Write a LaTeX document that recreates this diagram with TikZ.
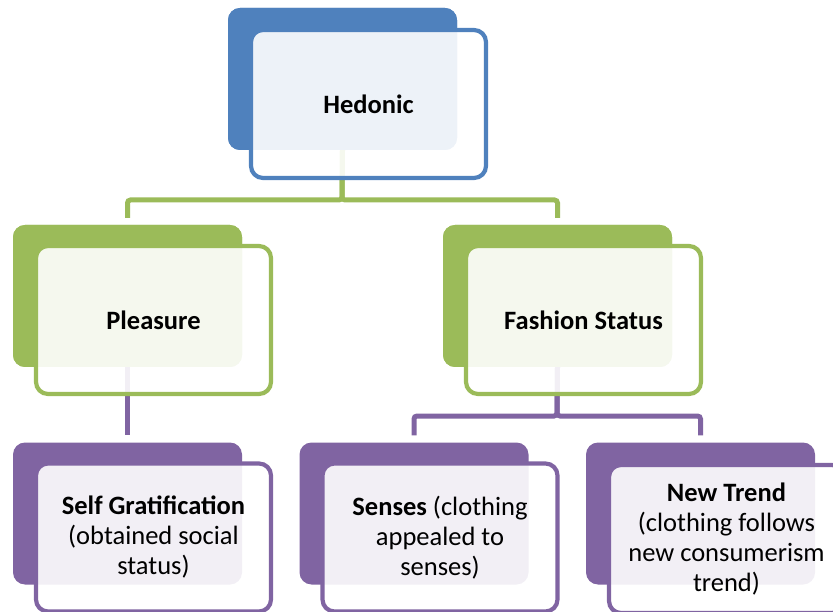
\documentclass[tikz,border=0pt]{standalone}
\usepackage{fontspec}
\setmainfont{Carlito}
\definecolor{cblue}{HTML}{4F81BD}
\definecolor{cgreen}{HTML}{9BBB59}
\definecolor{cpurple}{HTML}{8064A2}
\begin{document}
\begin{tikzpicture}[x=1pt,y=-1pt,
  backbox/.style={fill=#1,draw=none,rounded corners=12pt,minimum width=229pt,minimum height=142pt,inner sep=0pt},
  frontbox/.style={fill=white,fill opacity=0.9,text opacity=1,draw=#1,line width=4.2pt,rounded corners=12pt,minimum width=235pt,minimum height=148pt,inner sep=0pt,align=center,font=\fontsize{26.5}{30}\selectfont},
  conn/.style={draw=#1,line width=5pt,rounded corners=3pt,shorten >=7pt}]
\useasboundingbox (0,0) rectangle (833,612);
\clip (0,0) rectangle (833,612);
% back boxes
\node[backbox=cblue] (hedB) at (342.5,79) {};
\node[backbox=cgreen] (pleB) at (127.5,296) {};
\node[backbox=cgreen] (fasB) at (557.5,296) {};
\node[backbox=cpurple] (selB) at (127.5,513.5) {};
\node[backbox=cpurple] (senB) at (414,513.5) {};
\node[backbox=cpurple] (newB) at (700.5,513.5) {};
% bar coordinates
\coordinate (barG) at (342,200);
\coordinate (barP) at (557,416);
% connectors
\draw[conn=cgreen] (hedB.south) -- (barG) -| (pleB.north);
\draw[conn=cgreen] (hedB.south) -- (barG) -| (fasB.north);
\draw[conn=cpurple] (pleB.south) -- (selB.north);
\draw[conn=cpurple] (fasB.south) -- (barP) -| (senB.north);
\draw[conn=cpurple] (fasB.south) -- (barP) -| (newB.north);
% redraw back boxes over connector starts
\node[backbox=cblue] at (hedB) {};
\node[backbox=cgreen] at (pleB) {};
\node[backbox=cgreen] at (fasB) {};
% front boxes
\node[frontbox=cblue] (hedF) at (368.5,104) {\textbf{Hedonic}};
\node[frontbox=cgreen] (pleF) at (153.5,320) {\textbf{Pleasure}};
\node[frontbox=cgreen] (fasF) at (583.5,320) {\textbf{Fashion Status}};
\node[frontbox=cpurple] (selF) at (153.5,537.5) {\textbf{Self Gratification}\\(obtained social\\status)};
\node[frontbox=cpurple] (senF) at (440,537.5) {\textbf{Senses} (clothing\\appealed to\\senses)};
\node[frontbox=cpurple] (newF) at (726.5,539) {\textbf{New Trend}\\(clothing follows\\new consumerism\\trend)};
\end{tikzpicture}
\end{document}
